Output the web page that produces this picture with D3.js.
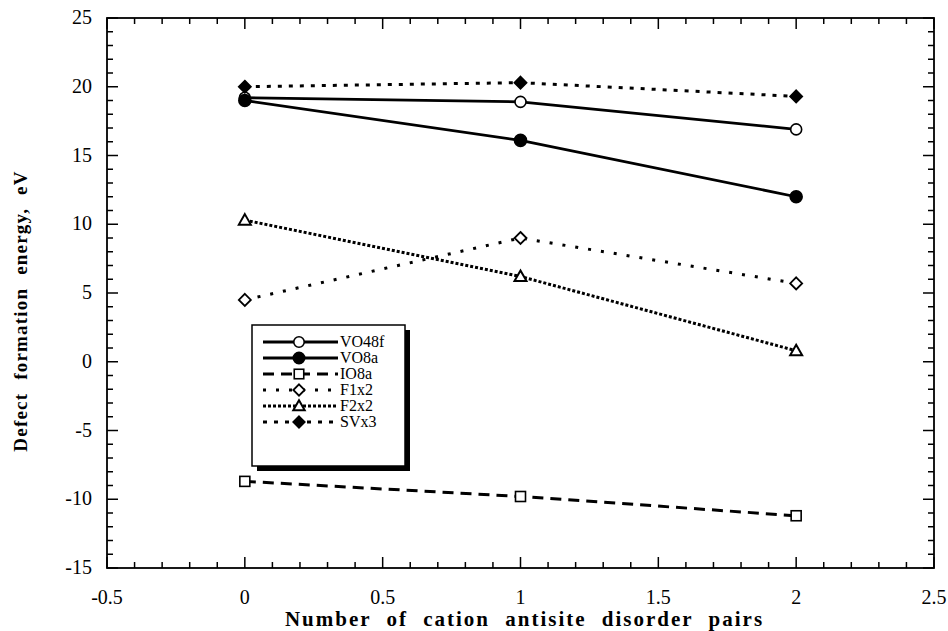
<!DOCTYPE html>
<meta charset="utf-8">
<style>
body { margin: 0; background: #fff; }
text { font-family: "Liberation Serif", "DejaVu Serif", serif; fill: #000; }
</style>
<svg width="948" height="631"></svg>
<script src="https://cdn.jsdelivr.net/npm/d3@7"></script>
<script>

// data
var pairs = [0, 1, 2];
var vo48f = [19.2, 18.9, 16.9];
var vo8a  = [19.0, 16.1, 12.0];
var io8a  = [-8.7, -9.8, -11.2];
var f1x2  = [4.5, 9.0, 5.7];
var f2x2  = [10.3, 6.2, 0.8];
var svx3  = [20.0, 20.3, 19.3];

var xTicks = [-0.5, 0, 0.5, 1, 1.5, 2, 2.5];
var yTicks = [-15, -10, -5, 0, 5, 10, 15, 20, 25];

var series = [
  {name: "VO48f", values: vo48f, dash: null,    marker: "circle",  fill: false},
  {name: "VO8a",  values: vo8a,  dash: null,    marker: "circle",  fill: true},
  {name: "IO8a",  values: io8a,  dash: "11,7",  marker: "square",  fill: false},
  {name: "F1x2",  values: f1x2,  dash: "3,10",  marker: "diamond", fill: false},
  {name: "F2x2",  values: f2x2,  dash: "3,2",   marker: "triangle",fill: false},
  {name: "SVx3",  values: svx3,  dash: "4,7",   marker: "diamond", fill: true}
];

var svg = d3.select("svg"),
    margin = {top: 18, right: 14, bottom: 63, left: 107},
    width = 948 - margin.left - margin.right,
    height = 631 - margin.top - margin.bottom,
    g = svg.append("g").attr("transform", "translate(" + margin.left + "," + margin.top + ")");

var x = d3.scaleLinear().domain([-0.5, 2.5]).range([0, width]);
var y = d3.scaleLinear().domain([-15, 25]).range([height, 0]);

// ticks: majors + minors, all inward, on all four sides
var xMinor = d3.range(-0.5, 2.5001, 0.1).map(function(d) { return +d.toFixed(1); });
var yMinor = d3.range(-15, 25.001, 1);

function isMajorX(d) { return xTicks.some(function(t) { return Math.abs(t - d) < 1e-6; }); }
function isMajorY(d) { return yTicks.indexOf(d) >= 0; }

var ticks = g.append("g").attr("stroke", "#000").attr("stroke-width", 1.5);

ticks.selectAll(".xb").data(xMinor).enter().append("line")
  .attr("x1", function(d) { return x(d); }).attr("x2", function(d) { return x(d); })
  .attr("y1", height).attr("y2", function(d) { return height - (isMajorX(d) ? 11 : 6); });
ticks.selectAll(".xt").data(xMinor).enter().append("line")
  .attr("x1", function(d) { return x(d); }).attr("x2", function(d) { return x(d); })
  .attr("y1", 0).attr("y2", function(d) { return isMajorX(d) ? 11 : 6; });
ticks.selectAll(".yl").data(yMinor).enter().append("line")
  .attr("y1", function(d) { return y(d); }).attr("y2", function(d) { return y(d); })
  .attr("x1", 0).attr("x2", function(d) { return isMajorY(d) ? 11 : 6; });
ticks.selectAll(".yr").data(yMinor).enter().append("line")
  .attr("y1", function(d) { return y(d); }).attr("y2", function(d) { return y(d); })
  .attr("x1", width).attr("x2", function(d) { return width - (isMajorY(d) ? 11 : 6); });

g.append("rect")
  .attr("width", width).attr("height", height)
  .attr("fill", "none").attr("stroke", "#000").attr("stroke-width", 1.8);

// tick labels
g.selectAll(".xl").data(xTicks).enter().append("text")
  .attr("font-size", 20)
  .attr("x", function(d) { return x(d); })
  .attr("y", height + 36)
  .attr("text-anchor", "middle")
  .text(function(d) { return d; });

g.selectAll(".yl2").data(yTicks).enter().append("text")
  .attr("font-size", 20)
  .attr("x", -15)
  .attr("y", function(d) { return y(d) + 6; })
  .attr("text-anchor", "end")
  .text(function(d) { return d; });

// axis titles
g.append("text")
  .attr("font-size", 21)
  .attr("font-weight", "bold")
  .style("letter-spacing", "2px")
  .style("word-spacing", "8px")
  .attr("x", width / 2 + 4)
  .attr("y", height + 58)
  .attr("text-anchor", "middle")
  .text("Number of cation antisite disorder pairs");

g.append("text")
  .attr("font-size", 19)
  .attr("font-weight", "bold")
  .style("letter-spacing", "1.2px")
  .style("word-spacing", "7px")
  .attr("transform", "translate(-80," + (height / 2 + 18) + ") rotate(-90)")
  .attr("text-anchor", "middle")
  .text("Defect formation energy, eV");

// markers
function drawMarker(sel, s, cx, cy, small) {
  var k = small ? 0.95 : 1;
  var fill = s.fill ? "#000" : "#fff";
  if (s.marker === "circle") {
    sel.append("circle").attr("cx", cx).attr("cy", cy).attr("r", (s.fill ? 6 : 5.5) * k)
      .attr("fill", fill).attr("stroke", "#000").attr("stroke-width", 1.6);
  } else if (s.marker === "square") {
    sel.append("rect").attr("x", cx - 5 * k).attr("y", cy - 5 * k)
      .attr("width", 10 * k).attr("height", 10 * k)
      .attr("fill", fill).attr("stroke", "#000").attr("stroke-width", 1.6);
  } else if (s.marker === "diamond") {
    var r = 6 * k;
    sel.append("path")
      .attr("d", "M" + cx + "," + (cy - r) + "L" + (cx + r) + "," + cy + "L" + cx + "," + (cy + r) + "L" + (cx - r) + "," + cy + "Z")
      .attr("fill", fill).attr("stroke", "#000").attr("stroke-width", 1.8);
  } else if (s.marker === "triangle") {
    var t = 6 * k;
    sel.append("path")
      .attr("d", "M" + cx + "," + (cy - t) + "L" + (cx + t) + "," + (cy + t * 0.75) + "L" + (cx - t) + "," + (cy + t * 0.75) + "Z")
      .attr("fill", fill).attr("stroke", "#000").attr("stroke-width", 2);
  }
}

var line = d3.line()
  .x(function(d, i) { return x(pairs[i]); })
  .y(function(d) { return y(d); });

series.forEach(function(s) {
  g.append("path")
    .datum(s.values)
    .attr("d", line)
    .attr("fill", "none")
    .attr("stroke", "#000")
    .attr("stroke-width", s.dash ? 3 : 2.8)
    .attr("stroke-dasharray", s.dash);
});
series.forEach(function(s) {
  var mg = g.append("g");
  s.values.forEach(function(v, i) { drawMarker(mg, s, x(pairs[i]), y(v), false); });
});

// legend with drop shadow
var lg = svg.append("g").attr("transform", "translate(252,325)");
var lw = 153, lh = 141;
lg.append("rect").attr("x", 5).attr("y", 5).attr("width", lw).attr("height", lh).attr("fill", "#000");
lg.append("rect").attr("width", lw).attr("height", lh)
  .attr("fill", "#fff").attr("stroke", "#000").attr("stroke-width", 1.5);

series.forEach(function(s, i) {
  var yy = 17 + i * 16;
  lg.append("line")
    .attr("x1", 11).attr("x2", 86).attr("y1", yy).attr("y2", yy)
    .attr("stroke", "#000").attr("stroke-width", 2.8)
    .attr("stroke-dasharray", s.dash);
  drawMarker(lg, s, 47, yy, true);
  lg.append("text")
    .attr("font-size", 16)
    .attr("x", 88).attr("y", yy + 5)
    .text(s.name);
});

</script>
